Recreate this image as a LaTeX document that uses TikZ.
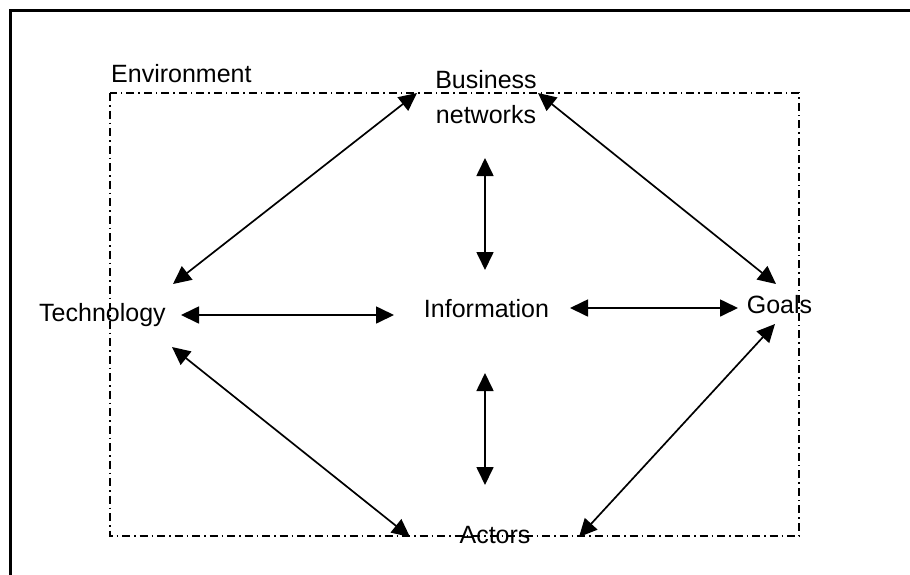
\documentclass[tikz,border=0pt]{standalone}
\usepackage{fontspec}
\setmainfont{Liberation Sans}
\usetikzlibrary{arrows.meta}
\begin{document}
\begin{tikzpicture}[x=1pt, y=-1pt,
  label/.style={inner sep=0pt, font=\fontsize{25}{35}\selectfont},
  link/.style={line width=1.7pt, {Triangle[length=18pt,width=17pt]}-{Triangle[length=18pt,width=17pt]}},
  envbox/.style={line width=1.4pt, dash pattern=on 8pt off 4pt on 1.5pt off 4pt},
  frame/.style={line width=3pt}]
\useasboundingbox (0,0) rectangle (910,574);
\clip (0,0) rectangle (910,574);

% outer frame
\draw[frame] (10,10) rectangle (940,610);

% environment boundary
\draw[envbox] (110,93) rectangle (799,536);

% labels
\node[label, anchor=base west] (env) at (111,82) {Environment};
\node[label, align=center] (biz) at (486,97) {Business\\networks};
\node[label, anchor=base west] (tech) at (39,321) {Technology};
\node[label, anchor=base] (info) at (486.5,317) {Information};
\node[label, anchor=base] (goals) at (779.5,313) {Goals};
\node[label, anchor=base] (actors) at (495,543) {Actors};

% two-way relations
\draw[link] ([shift={(-69,-4)}]biz.center) -- ([shift={(134,-37)}]tech.base west);
\draw[link] ([shift={(52,-4)}]biz.center) -- ([shift={(-3.5,-29)}]goals.base);
\draw[link] ([shift={(-1,61)}]biz.center) -- ([shift={(-1.5,-47)}]info.base);
\draw[link] ([shift={(142,-6)}]tech.base west) -- ([shift={(-92.5,-2)}]info.base);
\draw[link] ([shift={(83.5,-9)}]info.base) -- ([shift={(-41.5,-5)}]goals.base);
\draw[link] ([shift={(-1.5,56)}]info.base) -- ([shift={(-10,-58)}]actors.base);
\draw[link] ([shift={(133,26)}]tech.base west) -- ([shift={(-85,-6)}]actors.base);
\draw[link] ([shift={(-4.5,11)}]goals.base) -- ([shift={(84,-6)}]actors.base);
\end{tikzpicture}
\end{document}
